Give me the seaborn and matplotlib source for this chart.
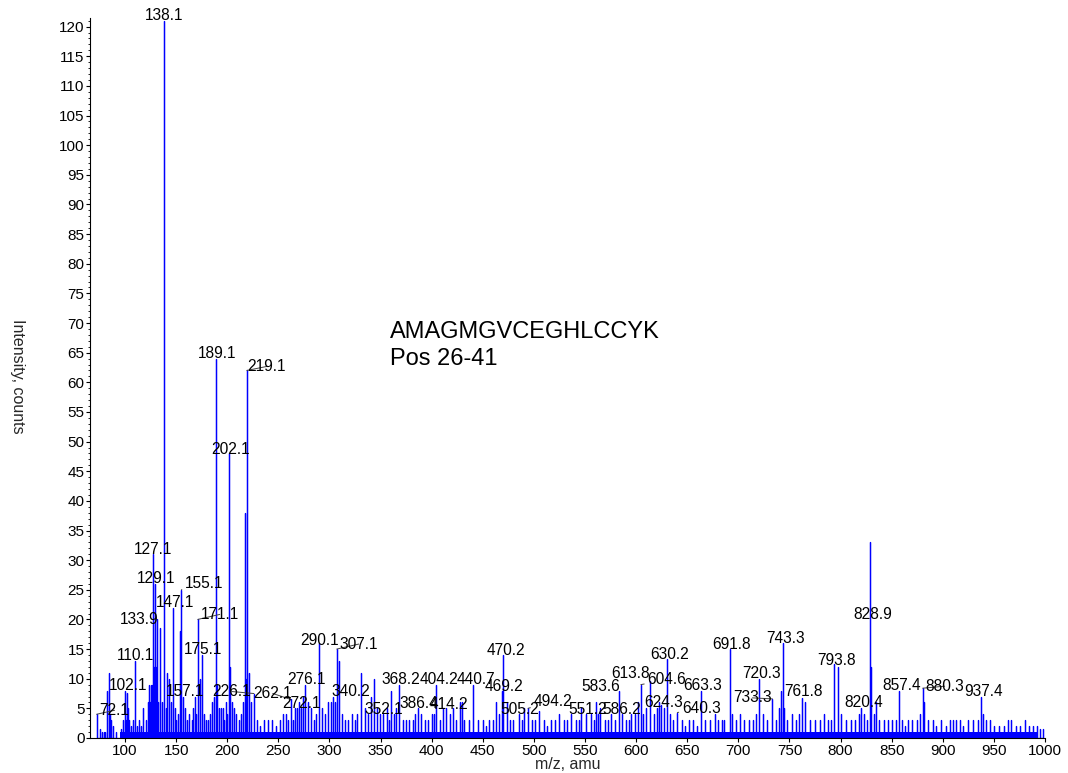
import numpy as np
import pandas as pd
import matplotlib
matplotlib.use("Agg")
import matplotlib.pyplot as plt
import seaborn as sns
from matplotlib.ticker import MultipleLocator

# ---------------- data ----------------
# labelled peaks (m/z, intensity in counts)
label_mz = [72.1, 102.1, 110.1, 127.1, 129.1, 133.9, 138.1, 147.1, 155.1, 157.1,
            171.1, 175.1, 189.1, 202.1, 219.1, 226.1, 262.1, 272.1, 276.1, 290.1,
            307.1, 340.2, 352.1, 368.2, 386.4, 404.2, 414.2, 440.7, 469.2, 470.2,
            494.2, 505.2, 551.2, 583.6, 586.2, 604.6, 613.8, 624.3, 630.2, 640.3,
            663.3, 691.8, 720.3, 733.3, 743.3, 761.8, 793.8, 820.4, 828.9, 857.4,
            880.3, 937.4]
label_int = [4, 7.6, 13, 31, 26, 18.5, 121, 22, 25, 7,
             20, 14, 64, 48, 62, 7.5, 6.5, 5, 9, 16,
             15, 7, 4, 9, 5, 9, 5, 9, 8, 14,
             5, 4.5, 4, 8, 4, 9, 9.6, 5.5, 13.3, 4.3,
             8, 15, 10, 6.6, 16, 6.8, 12.5, 5, 33, 8,
             8.4, 7]
label_text = [f"{m:.1f}" for m in label_mz]

# unlabelled minor peaks (m/z, intensity in counts)
minor_mz = [75, 77, 79, 80, 82, 84, 85, 86, 88, 91,
            96, 98, 100.1, 101, 103, 104, 106, 108, 112, 114,
            116, 118, 120, 122, 123, 124, 125, 126, 128, 130,
            131.1, 132, 136, 140, 141.5, 143, 145, 149, 150, 152,
            153.8, 159, 161, 163, 165, 166, 168, 169, 173, 177,
            179, 181, 183, 185, 187, 190, 192, 194, 196, 197,
            199, 200, 203, 205, 207, 209, 211, 213, 215, 217,
            218, 221, 223, 229, 232, 236, 240, 244, 248, 252,
            255, 257, 259, 264, 266, 268, 270, 274, 279, 282,
            285, 287, 293, 296, 299, 301, 303, 305, 309, 312,
            315, 318, 322, 325, 327, 331, 335, 338, 344, 346,
            349, 356, 358, 360, 363, 365, 372, 375, 378, 382,
            384, 390, 393, 396, 400, 402, 408, 411, 418, 421,
            424, 428, 430, 432, 436, 445, 450, 453, 456, 460,
            463, 466, 474, 477, 480, 485, 488, 490, 498, 501,
            510, 513, 517, 521, 525, 529, 532, 536, 541, 544,
            546, 556, 559, 561, 563, 565, 570, 572, 575, 579,
            590, 593, 595, 599, 602, 607, 610, 617, 620, 622,
            627, 633, 636, 645, 648, 652, 656, 660, 667, 672,
            677, 680, 684, 686, 694, 698, 702, 706, 710, 714,
            717, 724, 728, 737, 740, 742, 745, 748, 752, 756,
            759, 765, 770, 775, 780, 784, 788, 791, 797, 800,
            805, 810, 814, 818, 823, 826, 829.6, 833, 835, 838,
            842, 846, 850, 854, 860, 863, 866, 870, 875, 878,
            882, 886, 890, 893, 898, 903, 907, 910, 913, 917,
            920, 925, 930, 934, 939, 942, 946, 950, 955, 960,
            964, 967, 972, 976, 980, 984, 988, 992, 995, 998]
minor_int = [1.5, 1, 1, 1, 8, 11, 4, 3, 2, 1,
             1.5, 3, 8, 3, 5, 3, 2, 3, 2, 3,
             2, 5, 3, 6, 9, 6, 9, 9, 12, 12,
             20, 6, 6, 5, 11, 10, 6, 5, 3, 4,
             18, 5, 3, 4, 3, 5, 7, 4, 10, 4,
             3, 3, 4, 6, 7, 9, 5, 5, 5, 3,
             6, 4, 12, 6, 5, 4, 3, 4, 6, 38,
             10, 11, 6, 3, 2, 3, 3, 3, 2, 3,
             4, 4, 3, 3, 5, 5, 6, 7, 6, 5,
             3, 4, 5, 4, 6, 6, 7, 6, 13, 4,
             3, 3, 4, 3, 4, 11, 5, 4, 10, 5,
             4, 5, 3, 8, 4, 5, 3, 3, 3, 3,
             4, 4, 3, 3, 4, 4, 3, 5, 4, 5,
             3, 6, 6, 3, 3, 3, 3, 2, 3, 3,
             6, 4, 6, 3, 3, 4, 3, 5, 3, 3,
             3, 2, 3, 3, 4, 3, 3, 4, 3, 3,
             5, 4, 3, 6, 4, 5, 3, 3, 4, 3,
             3, 3, 4, 4, 6, 4, 5, 4, 5, 6,
             5, 4, 3, 3, 2, 3, 3, 2, 3, 3,
             4, 3, 3, 3, 4, 3, 4, 3, 3, 3,
             4, 4, 3, 3, 5, 8, 5, 3, 4, 3,
             4, 6, 3, 3, 3, 4, 3, 3, 12, 4,
             3, 3, 3, 4, 4, 3, 12, 4, 6, 3,
             3, 3, 3, 3, 3, 2, 3, 3, 3, 4,
             6, 3, 3, 2, 3, 2, 3, 3, 3, 3,
             2, 3, 3, 3, 4, 3, 3, 2, 2, 2,
             3, 3, 2, 2, 3, 2, 2, 2, 1.5, 1.5]

noise_floor_mz = [95, 993]
noise_floor_int = 1.0

peptide = "AMAGMGVCEGHLCCYK"
position = "Pos 26-41"
x_label = "m/z, amu"
y_label = "Intensity, counts"

# ---------------- layout (label offsets in pixels: dx, dy up, leader) --------
LABEL_OFFSETS = {
    "72.1": (18, 5, True), "102.1": (1, 8, False), "110.1": (0, 6, False),
    "127.1": (0, 6, False), "129.1": (1, 6, False), "133.9": (-21, 10, False),
    "138.1": (0, 6, False), "147.1": (2, 6, False), "155.1": (23, 7, True),
    "157.1": (2, 6, False), "171.1": (22, 6, True), "175.1": (1, 7, False),
    "189.1": (1, 6, False), "202.1": (1, 5, False), "219.1": (20, 5, True),
    "226.1": (-22, 3, True), "262.1": (-18, 7, True), "272.1": (1, 6, False),
    "276.1": (1, 6, False), "290.1": (0, 4, False), "307.1": (22, 6, True),
    "340.2": (-20, 6, False), "352.1": (1, 6, False), "368.2": (2, 6, False),
    "386.4": (1, 6, False), "404.2": (3, 6, False), "414.2": (3, 5, False),
    "440.7": (3, 6, False), "469.2": (2, 5, False), "470.2": (2, 6, False),
    "494.2": (25, 8, True), "505.2": (-20, 3, False), "551.2": (1, 6, False),
    "583.6": (-19, 5, False), "586.2": (0, 6, False), "604.6": (26, 6, True),
    "613.8": (-20, 9, False), "624.3": (3, 4, False), "630.2": (3, 6, False),
    "640.3": (24, 5, True), "663.3": (2, 6, False), "691.8": (2, 6, False),
    "720.3": (2, 6, False), "733.3": (-20, 2, True), "743.3": (3, 6, False),
    "761.8": (2, 7, False), "793.8": (2, 4, False), "820.4": (2, 7, False),
    "828.9": (3, -71, False), "857.4": (2, 6, False), "880.3": (22, 3, True),
    "937.4": (3, 6, False),
}

BLUE = "#0000ff"

sns.set_style("ticks")
plt.rcParams["font.family"] = ["Liberation Sans", "DejaVu Sans"]
plt.rcParams["axes.linewidth"] = 0.8

fig = plt.figure(figsize=(10.68, 7.73), dpi=100)
ax = fig.add_axes([0.08427, 0.04528, 0.8942, 0.93105])

# stick spectrum built from the peak lists
mz_all = np.array(label_mz + minor_mz, dtype=float)
int_all = np.array(label_int + minor_int, dtype=float)
order = np.argsort(mz_all)
mz_sorted = mz_all[order]
int_sorted = int_all[order]
xs = np.repeat(mz_sorted, 3)
ys = np.column_stack([np.zeros_like(int_sorted), int_sorted,
                      np.zeros_like(int_sorted)]).ravel()
df = pd.DataFrame({"mz": xs, "intensity": ys})
sns.lineplot(data=df, x="mz", y="intensity", sort=False, estimator=None,
             color=BLUE, linewidth=0.9, ax=ax)
ax.fill_between(noise_floor_mz, 0, noise_floor_int, color=BLUE, linewidth=0)

# peak labels
for t, m, h in zip(label_text, label_mz, label_int):
    dx, dy, lead = LABEL_OFFSETS.get(t, (0, 6, False))
    arrow = dict(arrowstyle="-", color="#404040", lw=0.7,
                 shrinkA=0, shrinkB=0) if lead else None
    ax.annotate(t, xy=(m, h), xytext=(dx, dy - 5.5),
                textcoords="offset pixels", ha="center", va="baseline",
                fontsize=11.2, color="black", arrowprops=arrow,
                annotation_clip=False)

# peptide annotation
fig.text(390 / 1068, 1 - 321 / 773, f"{peptide}\n{position}",
         fontsize=17, ha="left", va="top", color="black", linespacing=1.3)

# axes styling
ax.set_xlim(65.7, 1000)
ax.set_ylim(0, 121.4)
ax.xaxis.set_major_locator(MultipleLocator(50))
ax.yaxis.set_major_locator(MultipleLocator(5))
ax.yaxis.set_minor_locator(MultipleLocator(1))
ax.tick_params(axis="y", which="major", length=3, width=0.8, pad=1,
               labelsize=11, colors="black")
ax.tick_params(axis="y", which="minor", length=1.5, width=0.6, colors="black")
ax.tick_params(axis="x", which="major", length=3, width=0.8, pad=1.5,
               labelsize=11, colors="black")
sns.despine(ax=ax)
for s in ("left", "bottom"):
    ax.spines[s].set_color("black")

ax.set_xlabel(x_label, fontsize=11.5)
ax.set_ylabel(y_label, fontsize=11.5, rotation=270, va="center")
ax.xaxis.label.set_va("center")
ax.xaxis.set_label_coords(0.5, -0.037)
ax.yaxis.set_label_coords(-0.0754, 0.503)

fig.savefig("out.png", dpi=100)
